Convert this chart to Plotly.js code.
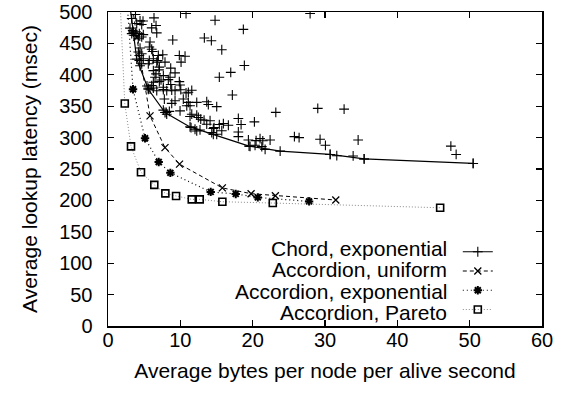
<!DOCTYPE html>
<html>
<head>
<meta charset="utf-8">
<script src="https://cdn.plot.ly/plotly-3.0.1.min.js"></script>
<style>html,body{margin:0;padding:0;background:#fff;}#chart{width:564px;height:394px;}</style>
</head>
<body>
<div id="chart"></div>
<script>
// ---- Data ----
const seriesNames = ["Chord, exponential", "Accordion, uniform", "Accordion, exponential", "Accordion, Pareto"];

// individual Chord configurations (scatter cloud)
const chordCloudX = [3.80,6.36,10.79,14.80,3.28,4.43,4.84,3.97,4.66,6.64,6.04,6.74,18.71,27.94,3.04,3.42,3.87,4.33,4.88,3.28,3.73,4.66,4.19,8.95,13.32,14.29,5.81,
5.71,4.43,6.04,6.18,4.19,4.66,4.33,15.73,6.96,7.57,9.86,10.65,4.88,5.71,6.27,6.87,4.33,6.74,10.10,7.88,4.66,5.57,4.43,7.10,18.85,8.67,
16.97,9.27,6.27,7.05,6.64,15.39,7.65,8.58,6.50,7.33,8.34,7.10,6.27,9.86,8.67,9.96,6.04,7.65,5.39,5.81,6.27,6.74,5.57,7.65,8.12,8.81,9.27,10.06,10.79,11.58,11.11,
17.19,7.79,9.27,8.81,10.41,11.11,11.34,10.89,12.27,13.65,13.87,15.03,23.20,29.00,32.64,7.65,8.06,8.48,8.12,9.96,11.58,12.27,11.34,12.49,12.82,13.28,14.11,18.02,
18.40,20.24,13.65,15.39,15.95,16.64,14.66,11.48,12.03,12.27,12.72,14.56,14.34,15.03,15.73,18.02,18.02,19.41,20.47,21.02,21.40,22.41,19.64,20.33,21.26,21.72,25.77,26.42,29.32,30.06,34.58,30.71,31.63,33.89,35.41,47.40,48.13,50.48];
const chordCloudY = [496.0,490.7,497.6,486.9,489.6,485.9,485.6,481.6,480.0,478.4,474.7,466.7,472.4,497.6,474.4,470.8,468.3,465.6,464.0,465.6,462.8,460.3,457.5,455.5,458.7,454.3,452.3,
444.2,442.6,440.7,437.2,436.2,433.5,430.8,439.9,430.8,431.9,430.8,429.5,425.5,422.8,425.5,422.8,422.8,420.2,420.2,420.2,417.5,417.5,414.3,412.2,414.8,410.6,
403.9,403.1,406.7,407.9,401.5,396.2,398.7,396.2,396.2,391.8,392.3,389.1,388.1,389.1,384.6,383.8,382.7,380.1,382.2,377.4,379.0,374.7,378.5,376.6,374.7,375.8,374.7,376.3,371.0,375.3,372.1,
367.8,361.4,358.7,354.5,361.4,356.1,350.6,350.6,356.1,357.1,352.6,349.4,340.1,346.5,345.4,343.8,340.1,341.7,337.3,342.6,337.3,335.7,333.7,332.1,329.3,327.7,326.9,330.5,
320.8,325.0,321.3,320.8,322.4,319.7,316.0,316.0,313.3,310.6,312.2,314.4,308.0,305.3,310.9,309.0,301.6,296.2,295.2,298.4,294.9,296.2,286.1,287.7,285.6,281.3,301.6,300.0,297.3,287.7,296.2,273.2,271.2,270.8,266.0,286.5,273.2,258.8];

// Chord, exponential (best-case frontier)
const chordX = [2.7, 3.5, 3.97, 5.57, 7.88, 11.34, 14.56, 19.5, 23.8, 30.71, 35.41, 50.48];
const chordY = [540, 468, 425, 377, 340, 317, 305, 286.5, 278.5, 273.2, 266.0, 258.8];

// Accordion, uniform
const accUniX = [3.0, 3.97, 5.81, 7.88, 9.89, 15.81, 19.78, 23.14, 31.49];
const accUniY = [540, 460, 334.6, 284, 257.7, 219.9, 210.7, 207.5, 200.6];

// Accordion, exponential
const accExpX = [2.5, 3.46, 5.12, 7.01, 8.62, 14.20, 17.66, 20.71, 27.80];
const accExpY = [540, 376.9, 298.9, 261.2, 243.9, 213.5, 210.3, 204.8, 198.4];

// Accordion, Pareto
const accParX = [1.5, 2.32, 3.18, 4.56, 6.40, 7.93, 9.41, 11.58, 12.68, 15.81, 22.78, 45.92];
const accParY = [560, 354.2, 286.1, 244.9, 224.7, 211.2, 207.1, 201.6, 201.6, 197.9, 195.8, 188.3];

const xTicks = [0, 10, 20, 30, 40, 50, 60];
const yTicks = [0, 50, 100, 150, 200, 250, 300, 350, 400, 450, 500];

// ---- Chart ----
const FONT = "Liberation Sans, Arial, Helvetica, sans-serif";
const plusMarker = {symbol: 'cross-thin-open', size: 7, color: 'black', line: {width: 1.1, color: 'black'}};
const traces = [
  {x: chordCloudX, y: chordCloudY, mode: 'markers', type: 'scatter', showlegend: false, name: seriesNames[0],
   marker: plusMarker},
  {x: chordX, y: chordY, mode: 'lines+markers', type: 'scatter', name: ' ',
   line: {color: 'black', width: 1.2}, marker: plusMarker},
  {x: accUniX, y: accUniY, mode: 'lines+markers', type: 'scatter', name: ' ',
   line: {color: 'black', width: 1.0, dash: '4px,3px'},
   marker: {symbol: 'x-thin-open', size: 7, color: 'black', line: {width: 1.3, color: 'black'}}},
  {x: accExpX, y: accExpY, mode: 'lines+markers', type: 'scatter', name: ' ',
   line: {color: 'black', width: 1.2, dash: '1px,3px'},
   marker: {symbol: 'asterisk-open', size: 7, color: 'black', line: {width: 2, color: 'black'}}},
  {x: accParX, y: accParY, mode: 'lines+markers', type: 'scatter', name: ' ',
   line: {color: '#8a8a8a', width: 1.0, dash: '1px,2px'},
   marker: {symbol: 'square-open', size: 7, color: 'black', line: {width: 1.6, color: 'black'}}}
];

const rowsY = [0.248, 0.180, 0.111, 0.043];
const annotations = seriesNames.map((t, i) => ({
  text: t, xref: 'paper', yref: 'paper', x: 0.786, y: rowsY[i],
  xanchor: 'right', yanchor: 'middle', showarrow: false,
  font: {family: FONT, size: 21, color: 'black'}
}));

const axisCommon = {
  showline: true, linecolor: 'black', linewidth: 1.5, mirror: 'allticks',
  ticks: 'inside', ticklen: 6, tickwidth: 1.2, tickcolor: 'black',
  showgrid: false, zeroline: false,
  tickfont: {family: FONT, size: 20, color: 'black'}
};

const layout = {
  width: 564, height: 394,
  margin: {l: 108, r: 22, t: 12, b: 68},
  paper_bgcolor: 'white', plot_bgcolor: 'white',
  font: {family: FONT, color: 'black'},
  xaxis: Object.assign({}, axisCommon, {
    range: [0, 60], tickvals: xTicks, ticktext: xTicks.map(String),
    ticklabelstandoff: -5,
    title: {text: 'Average bytes per node per alive second', font: {family: FONT, size: 21}, standoff: 14}
  }),
  yaxis: Object.assign({}, axisCommon, {
    range: [0, 500], tickvals: yTicks, ticktext: yTicks.map(String),
    ticklabelstandoff: 10,
    title: {text: 'Average lookup latency (msec)', font: {family: FONT, size: 21}, standoff: 16}
  }),
  legend: {x: 0.806, xanchor: 'left', y: 0.283, yanchor: 'top', font: {family: FONT, size: 12.5},
           bgcolor: 'rgba(0,0,0,0)', borderwidth: 0, itemwidth: 30, tracegroupgap: 0},
  showlegend: true,
  annotations: annotations
};

Plotly.newPlot('chart', traces, layout, {staticPlot: true, displayModeBar: false});
</script>
</body>
</html>
